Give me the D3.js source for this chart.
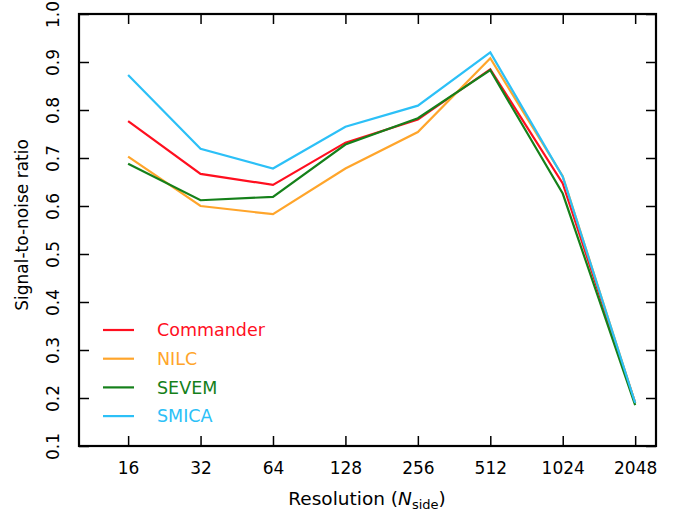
<!DOCTYPE html>
<html><head><meta charset="utf-8">
<script src="https://cdn.jsdelivr.net/npm/d3@7"></script>
<style>body{margin:0;background:#fff}svg{display:block}text{font-family:"DejaVu Sans",sans-serif}</style>
</head><body>
<svg id="c" width="684" height="514"></svg>
<script>
const resolutions = [16, 32, 64, 128, 256, 512, 1024, 2048];
const commander = [0.777, 0.667, 0.644, 0.732, 0.780, 0.885, 0.647, 0.190];
const nilc      = [0.703, 0.600, 0.583, 0.678, 0.754, 0.908, 0.662, 0.190];
const sevem     = [0.688, 0.612, 0.619, 0.728, 0.783, 0.883, 0.626, 0.185];
const smica     = [0.873, 0.719, 0.678, 0.765, 0.809, 0.920, 0.661, 0.190];
const seriesNames = ["Commander", "NILC", "SEVEM", "SMICA"];
const yTicks = [0.1, 0.2, 0.3, 0.4, 0.5, 0.6, 0.7, 0.8, 0.9, 1.0];

const colors = ["#ff0f1f", "#ffa52b", "#15801a", "#2cc0f7"];
const seriesVals = [commander, nilc, sevem, smica];

const svg = d3.select("#c");
const L = 79, R = 656, T = 14, B = 446;
const x = d3.scaleLog().base(2).domain([10, 2500]).range([L, R]);
const y = d3.scaleLinear().domain([0.1, 1.0]).range([B, T]);

const fs = 17;
// left axis
const gl = svg.append("g").attr("transform", `translate(${L},0)`)
  .call(d3.axisLeft(y).tickValues(yTicks).tickFormat(d3.format(".1f")).tickSizeInner(-10).tickSizeOuter(0));
gl.select(".domain").remove();
gl.selectAll("line").attr("stroke", "#000").attr("stroke-width", 1.5);
gl.selectAll("text").attr("font-size", fs).attr("fill", "#000")
  .attr("x", 0).attr("y", 0)
  .attr("transform", "translate(-26,0) rotate(-90)")
  .attr("dy", "0.35em").attr("text-anchor", "middle");
// right ticks
const gr = svg.append("g").attr("transform", `translate(${R},0)`)
  .call(d3.axisRight(y).tickValues(yTicks).tickFormat("").tickSizeInner(-10).tickSizeOuter(0));
gr.select(".domain").remove();
gr.selectAll("line").attr("stroke", "#000").attr("stroke-width", 1.5);
// bottom axis
const gb = svg.append("g").attr("transform", `translate(0,${B})`)
  .call(d3.axisBottom(x).tickValues(resolutions).tickFormat(d3.format("d")).tickSizeInner(-10).tickSizeOuter(0).tickPadding(16));
gb.select(".domain").remove();
gb.selectAll("line").attr("stroke", "#000").attr("stroke-width", 1.5);
gb.selectAll("text").attr("font-size", fs).attr("fill", "#000");
// top ticks
const gt = svg.append("g").attr("transform", `translate(0,${T})`)
  .call(d3.axisTop(x).tickValues(resolutions).tickFormat("").tickSizeInner(-10).tickSizeOuter(0));
gt.select(".domain").remove();
gt.selectAll("line").attr("stroke", "#000").attr("stroke-width", 1.5);

// lines
const line = d3.line().x((d, i) => x(resolutions[i])).y(d => y(d));
seriesVals.forEach((vals, k) => {
  svg.append("path").datum(vals).attr("d", line).attr("fill", "none")
    .attr("stroke", colors[k]).attr("stroke-width", 2.2).attr("stroke-linejoin", "miter");
});

// frame
svg.append("rect").attr("x", L).attr("y", T).attr("width", R - L).attr("height", B - T)
  .attr("fill", "none").attr("stroke", "#000").attr("stroke-width", 2.2);

// legend
seriesNames.forEach((n, k) => {
  const ly = 330 + k * 28.7;
  svg.append("line").attr("x1", 103).attr("x2", 134).attr("y1", ly).attr("y2", ly)
    .attr("stroke", colors[k]).attr("stroke-width", 2.2);
  svg.append("text").attr("x", 157).attr("y", ly).attr("dy", "0.35em")
    .attr("font-size", 17.5).attr("fill", colors[k]).text(n);
});

// axis titles
svg.append("text").attr("transform", `translate(22,${(T + B) / 2 - 5}) rotate(-90)`)
  .attr("text-anchor", "middle").attr("dy", "0.35em").attr("font-size", fs).text("Signal-to-noise ratio");
const xt = svg.append("text").attr("x", 367).attr("y", 499).attr("dy", "0.35em")
  .attr("text-anchor", "middle").attr("font-size", 18.5);
xt.append("tspan").text("Resolution (");
xt.append("tspan").attr("font-style", "italic").text("N");
xt.append("tspan").attr("font-size", 13).attr("dy", 4).text("side");
xt.append("tspan").attr("dy", -4).text(")");
</script>
</body></html>
